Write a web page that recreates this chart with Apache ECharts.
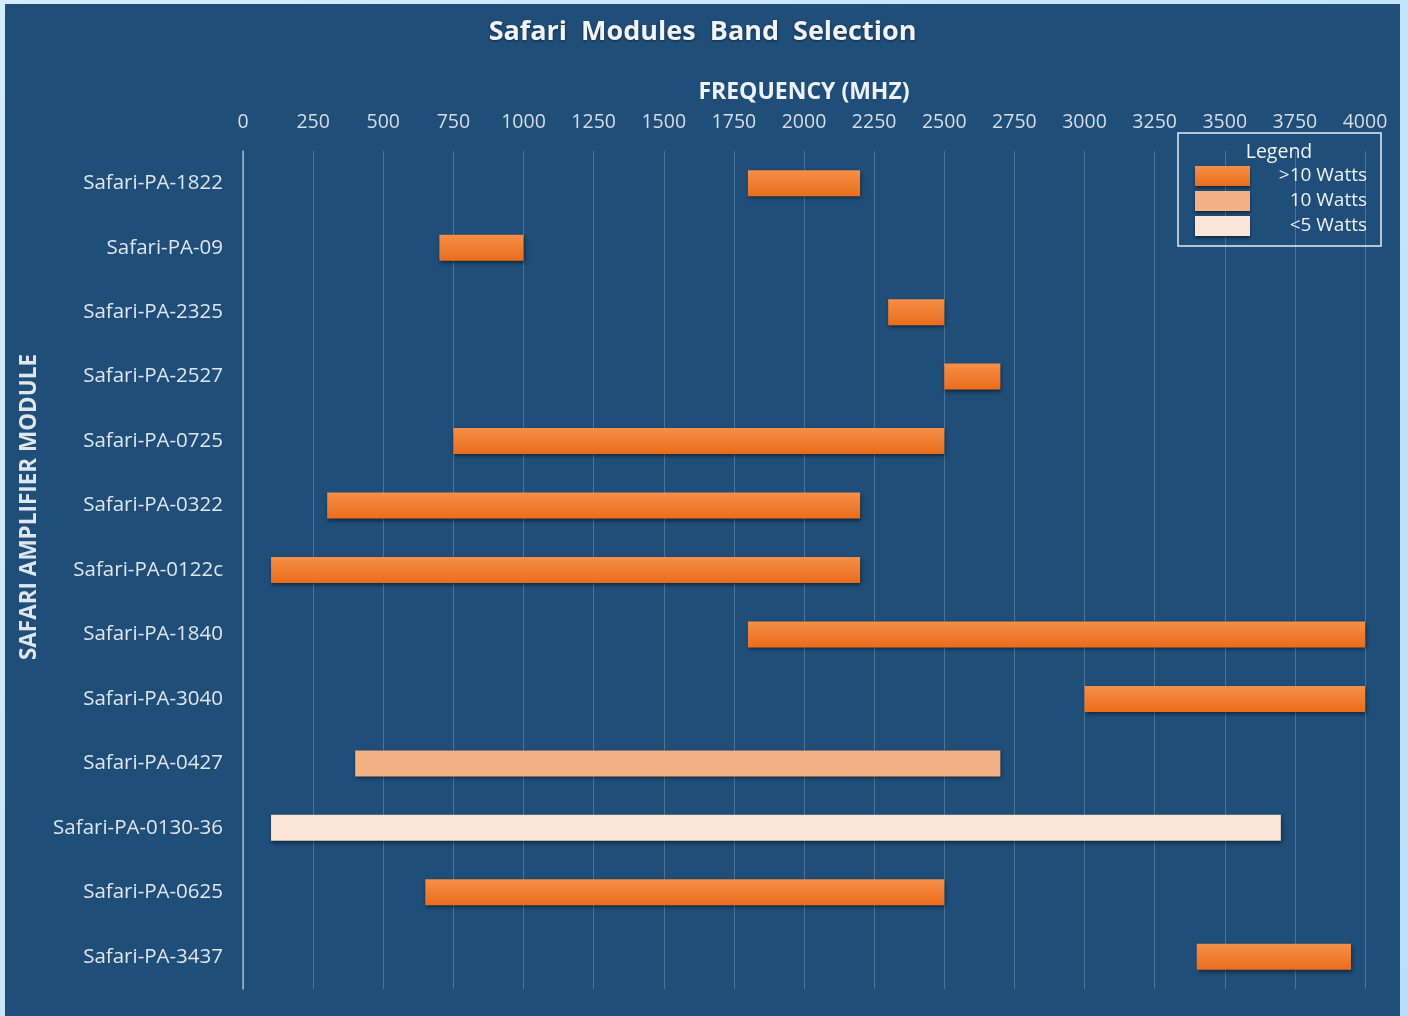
<!DOCTYPE html>
<html>
<head>
<meta charset="utf-8">
<script src="https://cdn.jsdelivr.net/npm/echarts@6/dist/echarts.min.js"></script>
<style>
  html, body { margin: 0; padding: 0; }
  body { width: 1408px; height: 1016px; background: linear-gradient(135deg, #d4ecfb, #b9dff8); position: relative; overflow: hidden; }
  #main { position: absolute; left: 5px; top: 4px; width: 1395px; height: 1012px; background: #1f4e79; }
</style>
</head>
<body>
<div id="main"></div>
<script>
// modules, top to bottom
const modules = ['Safari-PA-1822', 'Safari-PA-09', 'Safari-PA-2325', 'Safari-PA-2527', 'Safari-PA-0725',
  'Safari-PA-0322', 'Safari-PA-0122c', 'Safari-PA-1840', 'Safari-PA-3040', 'Safari-PA-0427',
  'Safari-PA-0130-36', 'Safari-PA-0625', 'Safari-PA-3437'];
// band edges in MHz
const bandStart = [1800, 700, 2300, 2500, 750, 300, 100, 1800, 3000, 400, 100, 650, 3400];
const bandEnd = [2200, 1000, 2500, 2700, 2500, 2200, 2200, 4000, 4000, 2700, 3700, 2500, 3950];
// output power class for each module
const powerClass = ['>10 Watts', '>10 Watts', '>10 Watts', '>10 Watts', '>10 Watts', '>10 Watts',
  '>10 Watts', '>10 Watts', '>10 Watts', '10 Watts', '<5 Watts', '>10 Watts', '>10 Watts'];
const classNames = ['>10 Watts', '10 Watts', '<5 Watts'];

const font = '"Open Sans", Lato, sans-serif';
const classColors = {
  '>10 Watts': new echarts.graphic.LinearGradient(0, 0, 0, 1, [
    { offset: 0, color: '#f58f48' }, { offset: 1, color: '#ea6d1b' }]),
  '10 Watts': '#f4b183',
  '<5 Watts': '#fbe5d6'
};

const chart = echarts.init(document.getElementById('main'));

// transparent base bar + one coloured segment per power class
const series = [{
  name: 'base',
  type: 'bar',
  stack: 'band',
  silent: true,
  barWidth: 26,
  itemStyle: { color: 'transparent' },
  data: bandStart
}];
classNames.forEach(function (cls) {
  series.push({
    name: cls,
    type: 'bar',
    stack: 'band',
    barWidth: 26,
    itemStyle: {
      color: classColors[cls],
      shadowColor: 'rgba(0,0,0,0.5)',
      shadowBlur: 4,
      shadowOffsetX: 1,
      shadowOffsetY: 2
    },
    data: modules.map(function (m, i) {
      return powerClass[i] === cls ? bandEnd[i] - bandStart[i] : '-';
    })
  });
});

const option = {
  backgroundColor: '#1f4e79',
  animation: false,
  title: {
    text: 'Safari  Modules  Band  Selection',
    left: 'center',
    top: 10,
    textStyle: {
      color: '#f0f3f7',
      fontFamily: font,
      fontSize: 27,
      fontWeight: 'bold',
      textShadowColor: 'rgba(0,0,0,0.5)',
      textShadowBlur: 3,
      textShadowOffsetY: 1
    }
  },
  legend: {
    data: classNames,
    orient: 'vertical',
    left: 1173,
    top: 129,
    padding: [33, 14, 10, 17],
    itemWidth: 55,
    itemHeight: 20,
    itemGap: 5,
    icon: 'rect',
    borderColor: '#e6ecf2',
    borderWidth: 1.5,
    borderRadius: 0,
    selectedMode: false,
    itemStyle: { shadowColor: 'rgba(0,0,0,0.5)', shadowBlur: 3, shadowOffsetY: 2 },
    formatter: function (name) { return '{t|' + name + '}'; },
    textStyle: {
      color: '#eef2f6',
      fontFamily: font,
      fontSize: 19,
      rich: { t: { width: 112, align: 'right', color: '#eef2f6', fontFamily: font, fontSize: 19 } }
    }
  },
  graphic: [
    {
      type: 'text',
      x: 1274,
      y: 148,
      style: { text: 'Legend', align: 'center', verticalAlign: 'middle', fill: '#eef2f6', font: '19.5px ' + font }
    },
    {
      type: 'text',
      x: 25,
      y: 503,
      rotation: Math.PI / 2,
      style: { text: 'SAFARI AMPLIFIER MODULE', align: 'center', verticalAlign: 'middle', fill: '#dfe6ee', font: 'bold 22.5px ' + font }
    }
  ],
  grid: { left: 238, right: 35, top: 147, bottom: 27 },
  xAxis: {
    type: 'value',
    position: 'top',
    min: 0,
    max: 4000,
    interval: 250,
    name: 'FREQUENCY (MHZ)',
    nameLocation: 'middle',
    nameGap: 47,
    nameTextStyle: { color: '#eef2f6', fontFamily: font, fontSize: 23, fontWeight: 'bold' },
    axisLine: { show: false },
    axisTick: { show: false },
    axisLabel: {
      color: '#d6dde6', fontFamily: font, fontSize: 19.5, margin: 19,
      formatter: function (v) { return String(v); }
    },
    splitLine: { show: true, lineStyle: { color: 'rgba(255,255,255,0.22)', width: 1 } }
  },
  yAxis: {
    type: 'category',
    inverse: true,
    data: modules,
    axisLine: { show: true, lineStyle: { color: 'rgba(255,255,255,0.55)', width: 1.5 } },
    axisTick: { show: false },
    axisLabel: { color: '#dfe6ee', fontFamily: font, fontSize: 20.5, margin: 20 },
    splitLine: { show: false }
  },
  series: series
};

chart.setOption(option);
</script>
</body>
</html>
